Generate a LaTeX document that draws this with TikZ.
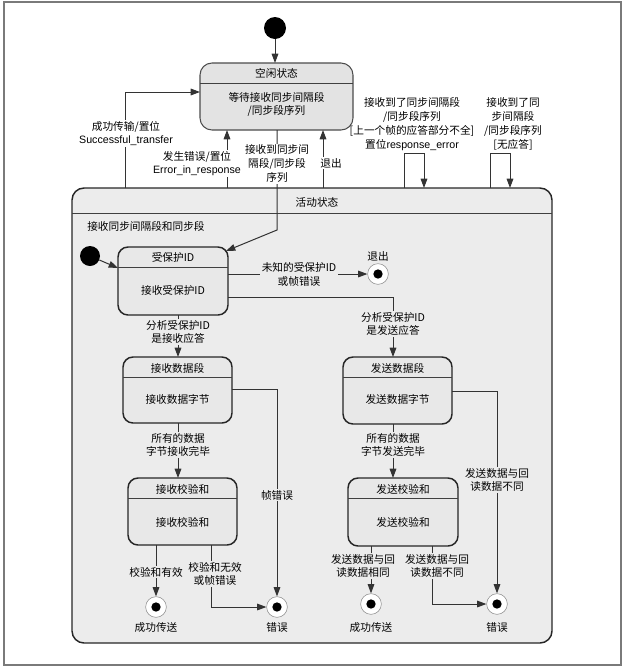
\documentclass[tikz,border=0pt]{standalone}
\usepackage{fontspec}
\setmainfont{Noto Sans CJK SC}
\newfontfamily\latf{Liberation Sans}
\usetikzlibrary{arrows.meta}
\definecolor{idlefill}{HTML}{E3E3E3}
\definecolor{actfill}{HTML}{ECECEC}
\definecolor{boxfill}{HTML}{E8E8E8}
\definecolor{linec}{HTML}{333333}
\definecolor{framec}{HTML}{7A7A7A}
\newcommand\mkbox[6]{\node[#6, minimum width={(#4-#2)*0.75pt}, minimum height={(#5-#3)*0.75pt}] (#1) at ({(#2+#4)/2},{(#3+#5)/2}) {};}
\begin{document}
\begin{tikzpicture}[x=0.75pt,y=-0.75pt,
  font=\fontsize{8}{10.3}\selectfont,
  sbox/.style={rectangle, rounded corners=7.5pt, draw=black!85, line width=1.1pt, fill=boxfill, inner sep=0pt, outer sep=0pt},
  idlebox/.style={sbox, draw=black!70, line width=0.8pt, fill=idlefill, rounded corners=9pt},
  actbox/.style={sbox, line width=1.1pt, fill=actfill, rounded corners=9pt},
  divl/.style={draw=black!75, line width=0.7pt},
  txt/.style={align=center, inner sep=0pt},
  conn/.style={draw=linec, line width=0.75pt, -{Triangle[length=7pt,width=5pt]}},
  lbl/.style={align=center, inner sep=1pt},
  lblw/.style={lbl, fill=white},
  lblg/.style={lbl, fill=actfill},
  initdot/.style={circle, fill=black, inner sep=0pt},
  final/.style={circle, draw=black!45, line width=0.4pt, fill=white, inner sep=0pt, minimum size=15.5pt,
    path picture={\fill[black] (path picture bounding box.center) circle (3.5pt);}}
]
\useasboundingbox (0,0) rectangle (624,668);
\draw[framec, line width=0.9pt] (4,2) rectangle (621,665);

% idle state
\mkbox{idle}{200}{63}{353}{130}{idlebox}
\draw[divl] (idle.west |- 0,83) -- (idle.east |- 0,83);
\node[txt] (idlet) at (276.5,73) {空闲状态};
\node[txt] (idleb) at (276.5,104.5) {等待接收同步间隔段\\/同步段序列};

\node[initdot, minimum size=16.5pt] (init) at (275,28) {};
\draw[conn] (init) -- (init |- idle.north);

% active state
\mkbox{active}{72}{188}{552}{643}{actbox}
\draw[divl] (active.west |- 0,213) -- (active.east |- 0,213);
\node[txt] (actt) at (317,202) {活动状态};
\node[txt, anchor=west] (actsub) at (87,226) {接收同步间隔段和同步段};

% transitions between active and idle
\draw[conn] (active.north -| 125,0) |- (idle.west |- 0,92);
\node[lblw] (l1) at (126,133.5) {成功传输/置位\\{\latf Successful\_transfer}};

\draw[conn] (active.north -| 227,0) -- (idle.south -| 227,0);
\node[lblw] (l2) at (197,163.5) {发生错误/置位\\{\latf Error\_in\_response}};

\draw[conn] (active.north -| 323,0) -- (idle.south -| 323,0);
\node[lblw] (l4) at (331,163) {退出};

% self loops
\draw[conn] (active.north -| 404,0) -- (404,153) -- (424,153) -- (active.north -| 424,0);
\node[lbl] (l5) at (412,124) {接收到了同步间隔段\\/同步段序列\\{}[上一个帧的应答部分不全]\\置位{\latf response\_error}};
\draw[conn] (active.north -| 490,0) -- (490,153) -- (510,153) -- (active.north -| 510,0);
\node[lbl] (l6) at (513,124) {接收到了同\\步间隔段\\/同步段序列\\{}[无应答]};

% protected ID state
\mkbox{prot}{118}{247}{228}{315}{sbox}
\draw[divl] (prot.west |- 0,267) -- (prot.east |- 0,267);
\node[txt] (prott) at (173,257) {受保护ID};
\node[txt] (protb) at (173,290) {接收受保护ID};

\coordinate (bend) at (277,230);
\draw[conn] (idle.south -| 277,0) -- (bend) -- ([shift={(-2,4)}]prot.north east);
\node[lblw] (l3) at (277,163.5) {接收到同步间\\隔段/同步段\\序列};

\node[initdot, minimum size=15pt] (init2) at (90,256) {};
\draw[conn] (init2) -- (prot.west |- 0,268);

% exit
\node[final] (exit) at (378,274) {};
\node[txt] (exitl) at (378,256) {退出};
\draw[conn] (prot.east |- 0,274) -- (exit);
\node[lblg] (l7) at (299,274.5) {未知的受保护ID\\或帧错误};

% receive data
\mkbox{rdata}{123}{357}{232}{423}{sbox}
\draw[divl] (rdata.west |- 0,377) -- (rdata.east |- 0,377);
\node[txt] (rdatat) at (177.5,368) {接收数据段};
\node[txt] (rdatab) at (177.5,399) {接收数据字节};
\draw[conn] (prot.south -| 178,0) -- (rdata.north -| 178,0);
\node[lblg] (l8) at (178,332) {分析受保护ID\\是接收应答};

% send data
\mkbox{sdata}{343}{357}{452}{424}{sbox}
\draw[divl] (sdata.west |- 0,377) -- (sdata.east |- 0,377);
\node[txt] (sdatat) at (397.5,368) {发送数据段};
\node[txt] (sdatab) at (397.5,399) {发送数据字节};
\draw[conn] (prot.east |- 0,297) -| (sdata.north -| 393,0);
\node[lblg] (l9) at (393,324) {分析受保护ID\\是发送应答};

% receive checksum
\mkbox{rchk}{128}{478}{237}{545}{sbox}
\draw[divl] (rchk.west |- 0,498) -- (rchk.east |- 0,498);
\node[txt] (rchkt) at (182.5,489) {接收校验和};
\node[txt] (rchkb) at (182.5,522) {接收校验和};
\draw[conn] (rdata.south -| 178,0) -- (rchk.north -| 178,0);
\node[lblg] (l10) at (178,445) {所有的数据\\字节接收完毕};

% send checksum
\mkbox{schk}{348}{478}{458}{546}{sbox}
\draw[divl] (schk.west |- 0,498) -- (schk.east |- 0,498);
\node[txt] (schkt) at (403,489) {发送校验和};
\node[txt] (schkb) at (403,522) {发送校验和};
\draw[conn] (sdata.south -| 393,0) -- (schk.north -| 393,0);
\node[lblg] (l11) at (393,445) {所有的数据\\字节发送完毕};

% final states
\node[final] (ok1) at (156,607) {};
\node[final] (err1) at (277,607) {};
\node[final] (ok2) at (371,604) {};
\node[final] (err2) at (497,604) {};
\node[txt] (ok1l) at (156,627) {成功传送};
\node[txt] (err1l) at (277,627) {错误};
\node[txt] (ok2l) at (371,627) {成功传送};
\node[txt] (err2l) at (497,627) {错误};

\draw[conn] (rdata.east |- 0,389) -| (err1);
\node[lblg] (l12) at (277,495) {帧错误};

\draw[conn] (rchk.south -| 156,0) -- (ok1);
\node[lblg] (l13) at (156,572) {校验和有效};
\draw[conn] (rchk.south -| 211,0) |- (err1);
\node[lblg] (l14) at (215,574) {校验和无效\\或帧错误};

\draw[conn] (sdata.east |- 0,391) -| (err2);
\node[lblg] (l15) at (497,480) {发送数据与回\\读数据不同};

\draw[conn] (schk.south -| 371,0) -- (ok2);
\node[lblg] (l16) at (363,566) {发送数据与回\\读数据相同};
\draw[conn] (schk.south -| 432,0) |- (err2);
\node[lblg] (l17) at (437,566) {发送数据与回\\读数据不同};
\end{tikzpicture}
\end{document}
